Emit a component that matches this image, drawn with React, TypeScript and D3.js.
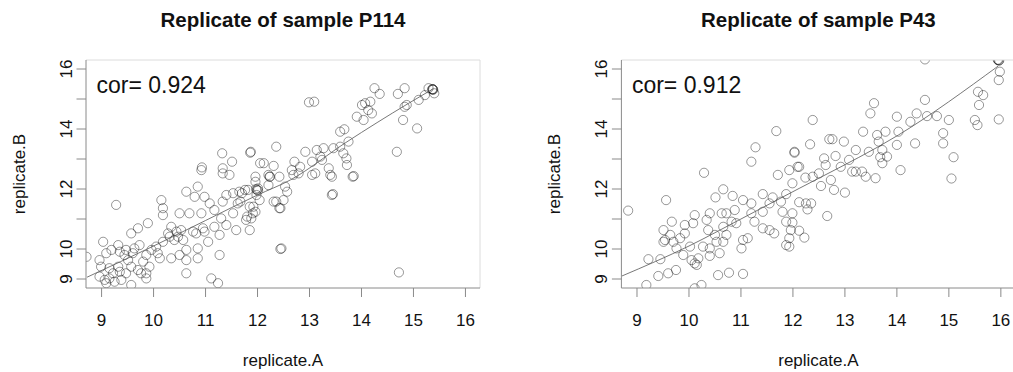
import React from "react";
import * as d3 from "d3";

// Replicate expression values for sample P114
const p114A = [
  14.25, 14.35, 14.70, 14.83, 15.29, 15.37, 15.37, 15.36, 15.38, 15.40, 15.22, 15.10, 14.87, 14.83,
  12.99, 13.09, 14.01, 14.07, 14.17, 13.91, 14.04, 14.20, 14.13, 14.80, 15.07, 13.59, 13.67, 13.75,
  14.68, 11.87, 12.36, 12.05, 12.31, 12.71, 12.92, 13.14, 13.27, 13.46, 13.59, 13.65, 13.71, 13.72,
  13.21, 13.24, 13.05, 12.82, 12.66, 13.37, 13.85, 12.21, 11.96, 13.11, 13.40,
  11.96, 11.76, 11.99, 12.01, 11.97, 12.24, 12.21, 12.53, 12.57, 12.50, 12.31, 12.44, 11.92, 11.80,
  11.85, 12.44, 13.43, 13.45, 14.72, 12.69, 12.79, 13.05, 13.43, 13.83, 11.67, 11.70, 11.96,
  11.32, 11.51, 10.93, 11.86, 11.33, 12.12,
  9.28, 10.15, 10.18, 10.18, 10.50, 10.63, 10.85, 10.79, 10.98, 10.69,
  10.92, 11.08, 11.17, 11.33, 11.40, 11.53, 11.65, 11.62, 11.82, 12.01,
  11.98, 12.04, 11.85, 11.91, 11.88, 11.78, 12.23, 12.36, 12.42, 12.46,
  11.33, 11.46, 10.92, 11.53, 11.30, 11.40, 11.59, 11.17, 10.95, 10.98,
  10.76, 10.82, 11.27, 11.05, 10.85, 10.63, 10.63, 11.27, 10.34, 10.28,
  10.31, 10.44, 10.53, 10.47, 10.57, 10.40, 10.18, 10.05, 10.08, 10.34,
  10.12, 9.86, 9.96, 9.89, 9.70, 9.57, 9.63, 9.73, 9.60, 9.80,
  9.92, 9.86, 9.70, 9.57, 9.51, 9.44, 9.35, 9.47, 9.32, 9.03,
  9.19, 9.09, 8.96, 8.99, 9.15, 9.32, 9.22, 9.35, 9.47, 8.96,
  9.06, 9.15, 9.25, 9.09, 9.38, 9.57, 9.76, 9.86, 8.71, 11.11,
  11.24, 10.63, 10.50, 10.85, 12.42,
];
const p114B = [
  15.36, 15.17, 15.17, 15.36, 15.36, 15.32, 15.32, 15.33, 15.31, 15.19, 15.13, 14.97, 14.80, 14.74,
  14.89, 14.91, 14.80, 14.86, 14.91, 14.41, 14.30, 14.52, 14.63, 14.30, 14.02, 13.91, 13.99, 13.58,
  13.24, 13.24, 13.41, 12.86, 12.77, 12.91, 13.24, 13.30, 13.36, 13.36, 13.41, 13.19, 13.02, 12.80,
  13.08, 12.97, 12.91, 12.74, 12.63, 12.69, 12.43, 12.47, 12.41, 12.52, 12.47,
  12.24, 11.97, 11.97, 11.95, 12.00, 12.41, 12.13, 12.08, 11.91, 11.63, 11.58, 11.36, 11.41, 11.08,
  10.63, 10.00, 11.80, 11.83, 9.22, 12.47, 12.52, 12.47, 12.41, 12.41, 11.58, 11.86, 11.24,
  13.19, 12.91, 12.72, 13.21, 12.69, 12.86,
  11.47, 11.63, 11.36, 11.13, 11.19, 11.91, 12.08, 11.74, 11.74, 11.19,
  11.19, 11.52, 11.30, 11.58, 11.80, 11.86, 11.91, 11.52, 11.97, 12.02,
  11.80, 11.63, 11.41, 11.19, 11.02, 10.97, 12.41, 11.58, 11.36, 10.02,
  12.52, 12.47, 12.63, 11.19, 11.02, 10.80, 10.63, 10.74, 10.69, 10.58,
  10.58, 10.52, 10.47, 10.24, 10.02, 9.97, 9.63, 9.80, 10.74, 10.52,
  10.41, 10.58, 10.63, 10.41, 10.30, 10.30, 10.24, 10.08, 9.86, 9.69,
  9.69, 9.80, 9.97, 10.86, 10.69, 10.52, 10.02, 10.13, 9.86, 9.58,
  9.41, 9.19, 9.30, 9.41, 9.63, 9.80, 9.91, 9.97, 10.13, 10.24,
  9.97, 9.86, 9.63, 9.41, 9.36, 9.41, 9.19, 9.24, 9.19, 9.08,
  8.97, 9.02, 8.91, 8.86, 8.97, 8.80, 9.19, 9.02, 9.74, 9.02,
  8.86, 9.19, 9.80, 9.69, 12.41,
];

// Replicate expression values for sample P43
const p43A = [
  15.95, 15.96, 15.94, 15.97, 15.98, 15.96, 15.56, 15.66, 15.58, 15.50, 15.55, 15.96, 14.54, 14.54,
  13.56, 13.49, 14.00, 14.38, 14.58, 14.77, 15.00, 14.26, 12.38, 12.03, 12.33, 12.70, 12.76, 12.98,
  13.35, 13.62, 13.78, 14.03, 13.65, 14.00, 14.35, 14.89, 14.89, 15.09, 13.46, 13.21, 13.72, 13.68,
  13.81, 13.72, 12.60, 12.82, 13.08, 12.92, 12.63, 12.12, 14.07, 15.05, 13.40, 13.59, 13.21, 12.50,
  12.73, 12.24, 12.38, 12.54, 12.79, 13.00, 11.99, 12.12, 12.25, 12.35, 12.28, 12.66, 11.99, 11.99,
  12.12, 12.22, 11.93, 11.93, 13.14, 13.33,
  11.68, 11.28, 11.20, 10.29, 12.03, 11.93, 11.71, 12.09,
  8.83, 9.56, 10.51, 10.66, 10.84, 11.04, 11.20, 11.42, 11.61, 11.77, 11.87, 11.55, 11.42, 11.20,
  11.26, 11.42, 11.64, 11.87, 11.80, 11.96, 11.87, 11.55, 11.04, 11.13, 10.91, 10.63, 10.40, 10.66,
  10.50, 10.66, 10.72, 10.53, 10.40, 10.27, 10.37, 10.34, 10.11, 10.08, 9.92, 9.92, 9.83, 9.67, 9.51,
  9.64, 9.54, 9.70, 9.76, 9.89, 10.02, 10.05, 10.15, 10.11, 10.18, 10.40, 10.59, 9.45, 9.22, 9.41,
  9.60, 9.75, 10.56, 10.77, 11.04, 9.18, 10.24, 10.11, 11.01, 10.82, 10.72, 10.88, 9.51,
];
const p43B = [
  16.30, 16.28, 16.31, 16.29, 15.91, 15.63, 15.24, 15.13, 14.80, 14.30, 14.13, 14.32, 14.97, 16.32,
  14.86, 14.52, 14.41, 14.52, 14.43, 14.43, 14.30, 14.24, 14.30, 13.24, 13.49, 13.66, 13.66, 13.58,
  13.91, 13.80, 13.91, 13.91, 13.58, 13.47, 13.52, 13.86, 13.52, 13.06, 13.24, 13.30, 13.30, 13.06,
  13.08, 12.86, 13.02, 13.10, 12.97, 12.74, 12.80, 12.74, 12.63, 12.35, 12.41, 12.36, 12.58, 12.52,
  12.30, 12.38, 12.41, 12.10, 11.97, 11.88, 12.19, 11.56, 11.52, 11.52, 11.32, 11.10, 11.19, 10.88,
  10.61, 10.38, 10.08, 10.36, 12.58, 12.58,
  13.93, 13.39, 12.91, 12.54, 13.21, 12.63, 12.47, 12.74,
  11.28, 11.63, 11.72, 11.99, 11.77, 11.63, 11.52, 11.83, 11.72, 11.58, 11.83, 11.52, 11.24, 11.19,
  10.91, 10.69, 10.52, 10.91, 11.24, 10.63, 10.13, 10.63, 10.30, 10.36, 10.86, 11.19, 11.19, 10.74,
  10.47, 10.24, 10.47, 10.24, 10.02, 10.08, 10.63, 10.97, 11.13, 10.86, 10.80, 10.52, 10.36, 10.91,
  10.63, 10.47, 10.30, 10.24, 10.02, 9.80, 10.08, 9.63, 9.47, 9.52, 9.69, 9.77, 9.86, 9.66, 9.66,
  9.10, 9.19, 9.30, 9.13, 9.21, 9.17, 8.80, 8.80, 8.69, 10.02, 10.91, 11.19, 11.30, 10.24,
];

// Smoothed trend through each replicate pair
const p114FitA = [8.72, 10.0, 11.0, 12.0, 12.63, 13.7, 14.9, 15.37];
const p114FitB = [9.06, 10.1, 10.95, 11.8, 12.3, 13.55, 14.85, 15.33];
const p43FitA = [8.71, 10.0, 11.0, 12.12, 12.5, 14.03, 15.95];
const p43FitB = [9.1, 10.1, 11.0, 12.02, 12.36, 13.8, 16.1];

const xTicks = [9, 10, 11, 12, 13, 14, 15, 16];
const yTicks = [9, 10, 11, 12, 13, 14, 15, 16];
const yTickLabels = [9, 10, 12, 14, 16];

const titles = ["Replicate of sample P114", "Replicate of sample P43"];
const cors = ["0.924", "0.912"];

const FONT = "'Liberation Sans', Arial, Helvetica, sans-serif";

type PanelProps = {
  offset: number;
  title: string;
  cor: string;
  a: number[];
  b: number[];
  fitA: number[];
  fitB: number[];
};

function Panel({ offset, title, cor, a, b, fitA, fitB }: PanelProps) {
  const left = 86 + offset;
  const right = 480 + offset;
  const top = 60;
  const bottom = 288;
  const x = d3.scaleLinear().domain([8.7, 16.28]).range([left, right]);
  const y = d3.scaleLinear().domain([8.7, 16.3]).range([bottom, top]);
  const line = d3
    .line<number>()
    .x((d) => x(d))
    .y((_, i) => y(fitB[i]))
    .curve(d3.curveMonotoneX);
  const cx = (left + right) / 2;
  const cy = (top + bottom) / 2;
  const axisCol = "#8a8a8a";
  return (
    <g>
      <text x={cx} y={27} textAnchor="middle" fontFamily={FONT} fontWeight="bold" fontSize={20.5} fill="#111">
        {title}
      </text>
      <defs>
        <clipPath id={`clip-${offset}`}>
          <rect x={left} y={top} width={right - left} height={bottom - top} />
        </clipPath>
      </defs>
      <g clipPath={`url(#clip-${offset})`}>
        {a.map((v, i) => (
          <circle
            key={i}
            cx={x(v)}
            cy={y(b[i])}
            r={4.6}
            fill="none"
            stroke="#000"
            strokeOpacity={0.45}
            strokeWidth={0.9}
          />
        ))}
        <path d={line(fitA) || ""} fill="none" stroke="#555" strokeWidth={0.8} />
      </g>
      {/* frame */}
      <line x1={left} x2={right} y1={top} y2={top} stroke="#dcdcdc" />
      <line x1={right} x2={right} y1={top} y2={bottom} stroke="#dcdcdc" />
      <line x1={left} x2={left} y1={top} y2={bottom} stroke={axisCol} />
      <line x1={left} x2={right} y1={bottom} y2={bottom} stroke={axisCol} />
      {xTicks.map((t) => (
        <g key={`x${t}`}>
          <line x1={x(t)} x2={x(t)} y1={bottom} y2={bottom + 9} stroke={axisCol} />
          <text x={x(t)} y={325.5} textAnchor="middle" fontFamily={FONT} fontSize={17} fill="#111">
            {t}
          </text>
        </g>
      ))}
      {yTicks.map((t) => (
        <line key={`y${t}`} x1={left - 9.5} x2={left} y1={y(t)} y2={y(t)} stroke={axisCol} />
      ))}
      {yTickLabels.map((t) => (
        <text
          key={`yl${t}`}
          transform={`translate(${left - 14.5},${y(t)}) rotate(-90)`}
          textAnchor="middle"
          fontFamily={FONT}
          fontSize={17}
          fill="#111"
        >
          {t}
        </text>
      ))}
      <text x={cx} y={366} textAnchor="middle" fontFamily={FONT} fontSize={17} fill="#111">
        replicate.A
      </text>
      <text
        transform={`translate(${left - 61},${cy}) rotate(-90)`}
        textAnchor="middle"
        fontFamily={FONT}
        fontSize={17}
        fill="#111"
      >
        replicate.B
      </text>
      <text x={left + 10.5} y={92.5} fontFamily={FONT} fontSize={23} fill="#111">
        {`cor= ${cor}`}
      </text>
    </g>
  );
}

export default function App() {
  return (
    <svg
      width={1013}
      height={372}
      style={{ position: "absolute", left: 0, top: 0, background: "#fff" }}
    >
      <rect width={1013} height={372} fill="#fff" />
      <Panel offset={0} title={titles[0]} cor={cors[0]} a={p114A} b={p114B} fitA={p114FitA} fitB={p114FitB} />
      <Panel offset={535.4} title={titles[1]} cor={cors[1]} a={p43A} b={p43B} fitA={p43FitA} fitB={p43FitB} />
    </svg>
  );
}
